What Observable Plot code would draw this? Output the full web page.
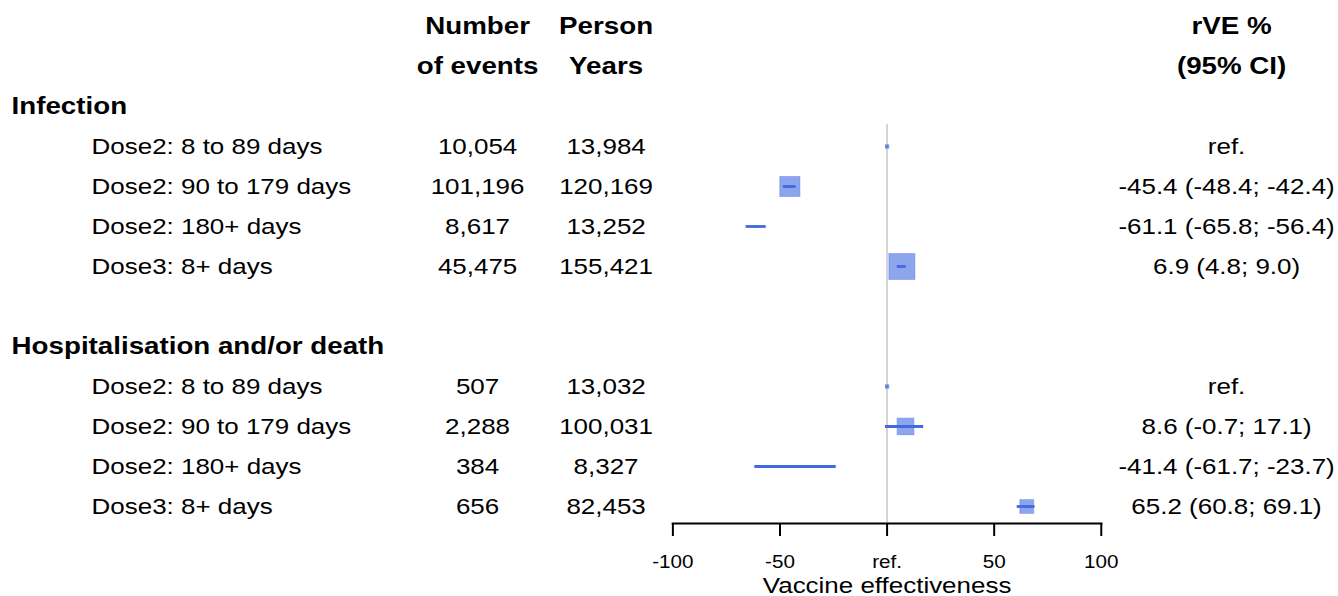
<!DOCTYPE html>
<html>
<head>
<meta charset="utf-8">
<script src="https://cdn.jsdelivr.net/npm/d3@7"></script>
<script src="https://cdn.jsdelivr.net/npm/@observablehq/plot@0.6"></script>
<style>
  html, body { margin: 0; padding: 0; background: #fff; overflow: hidden; }
  #chart svg { display: block; transform: scaleX(1.18); transform-origin: 0 0; }
</style>
</head>
<body>
<div id="chart"></div>
<script>
// ---- Data ----
const groups = ["Infection", "Hospitalisation and/or death"];
const labels = ["Dose2: 8 to 89 days", "Dose2: 90 to 179 days", "Dose2: 180+ days", "Dose3: 8+ days"];

const infEvents = [10054, 101196, 8617, 45475];
const infPersonYears = [13984, 120169, 13252, 155421];
const infEst = [0, -45.4, -61.1, 6.9];
const infLo = [null, -48.4, -65.8, 4.8];
const infHi = [null, -42.4, -56.4, 9.0];

const hospEvents = [507, 2288, 384, 656];
const hospPersonYears = [13032, 100031, 8327, 82453];
const hospEst = [0, 8.6, -41.4, 65.2];
const hospLo = [null, -0.7, -61.7, 60.8];
const hospHi = [null, 17.1, -23.7, 69.1];

const colEvents = ["Number", "of events"];
const colPersonYears = ["Person", "Years"];
const colRve = ["rVE %", "(95% CI)"];
const xTicks = [-100, -50, 0, 50, 100];
const axisTitle = "Vaccine effectiveness";

// ---- Table built from the arrays ----
const series = [
  {events: infEvents, py: infPersonYears, est: infEst, lo: infLo, hi: infHi},
  {events: hospEvents, py: hospPersonYears, est: hospEst, lo: hospLo, hi: hospHi}
];
const rows = [];
series.forEach((s, g) => {
  labels.forEach((lab, i) => {
    rows.push({
      row: g * 6 + 1 + i,
      label: lab,
      events: s.events[i],
      py: s.py[i],
      est: s.est[i],
      lo: s.lo[i],
      hi: s.hi[i],
      ref: s.lo[i] == null
    });
  });
});
const groupRows = groups.map((t, g) => ({row: g * 6, text: t}));
const headRows = (arr) => arr.map((t, i) => ({row: i - 2, text: t}));

const fmtN = d3.format(",");
const f1 = (v) => v.toFixed(1);
const rveText = (d) => d.ref ? "ref." : `${f1(d.est)} (${f1(d.lo)}; ${f1(d.hi)})`;

// ---- Layout (the picture is drawn narrow and stretched horizontally) ----
const S = 1.18;
const W = 1338 / S;
const x0 = 672.3;           // reference px of x = -100
const x1 = 1100.7;          // reference px of x = 100
const mL = x0 / S;
const mR = (1338 - x1) / S;
const dxAt = (px) => (px - x0) / S;

const blue = "#4169E1";
const squareSym = {
  draw(ctx, size) {
    const side = Math.sqrt(size / Math.PI);
    const h = side / 2, w = h / S;
    ctx.moveTo(-w, -h); ctx.lineTo(w, -h); ctx.lineTo(w, h); ctx.lineTo(-w, h); ctx.closePath();
  }
};

const regular = 22, bold = 23.5;
const cell = (extra) => Object.assign({y: "row", frameAnchor: "left", lineAnchor: "middle", fill: "#000"}, extra);

const chart = Plot.plot({
  width: W,
  height: 596,
  marginLeft: mL,
  marginRight: mR,
  marginTop: 124,
  marginBottom: 73,
  x: {domain: [-100, 100]},
  y: {domain: [-2, 10], range: [26, 506], axis: null},
  r: {type: "linear", domain: [0, d3.max([...infPersonYears, ...hospPersonYears])], range: [0, 26]},
  style: {fontFamily: "'Liberation Sans', Arial, sans-serif", color: "#000", background: "#fff", overflow: "visible"},
  marks: [
    Plot.ruleX([0], {stroke: "#c8c8c8", strokeWidth: 1.3}),
    Plot.frame({anchor: "bottom", stroke: "#000", strokeWidth: 2}),
    Plot.axisX({
      ticks: xTicks,
      tickFormat: (d) => d === 0 ? "ref." : String(d),
      tickSize: 13, tickPadding: 19, fontSize: 17.5,
      label: null, stroke: "#000", strokeWidth: 1.7
    }),
    Plot.text([axisTitle], {frameAnchor: "bottom", lineAnchor: "middle", textAnchor: "middle", dy: 62, fontSize: 22, fill: "#000"}),

    // markers
    Plot.dot(rows.filter((d) => !d.ref), {
      x: "est", y: "row", r: "py", symbol: squareSym,
      fill: blue, fillOpacity: 0.6, stroke: blue, strokeOpacity: 0.35, strokeWidth: 1
    }),
    Plot.dot(rows.filter((d) => d.ref), {
      x: "est", y: "row", r: 4.2, symbol: squareSym, fill: blue, fillOpacity: 0.75
    }),
    Plot.ruleY(rows.filter((d) => !d.ref), {y: "row", x1: "lo", x2: "hi", stroke: blue, strokeWidth: 2.8}),

    // headers
    Plot.text(groupRows, cell({text: "text", dx: dxAt(11), textAnchor: "start", fontSize: bold, fontWeight: "bold"})),
    Plot.text(headRows(colEvents), cell({text: "text", dx: dxAt(477), textAnchor: "middle", fontSize: bold, fontWeight: "bold"})),
    Plot.text(headRows(colPersonYears), cell({text: "text", dx: dxAt(605.5), textAnchor: "middle", fontSize: bold, fontWeight: "bold"})),
    Plot.text(headRows(colRve), cell({text: "text", dx: dxAt(1231), textAnchor: "middle", fontSize: bold, fontWeight: "bold"})),

    // table columns
    Plot.text(rows, cell({text: "label", dx: dxAt(91), textAnchor: "start", fontSize: regular})),
    Plot.text(rows, cell({text: (d) => fmtN(d.events), dx: dxAt(477), textAnchor: "middle", fontSize: regular})),
    Plot.text(rows, cell({text: (d) => fmtN(d.py), dx: dxAt(605.5), textAnchor: "middle", fontSize: regular})),
    Plot.text(rows, cell({text: rveText, dx: dxAt(1226), textAnchor: "middle", fontSize: regular}))
  ]
});

document.getElementById("chart").append(chart);
</script>
</body>
</html>
